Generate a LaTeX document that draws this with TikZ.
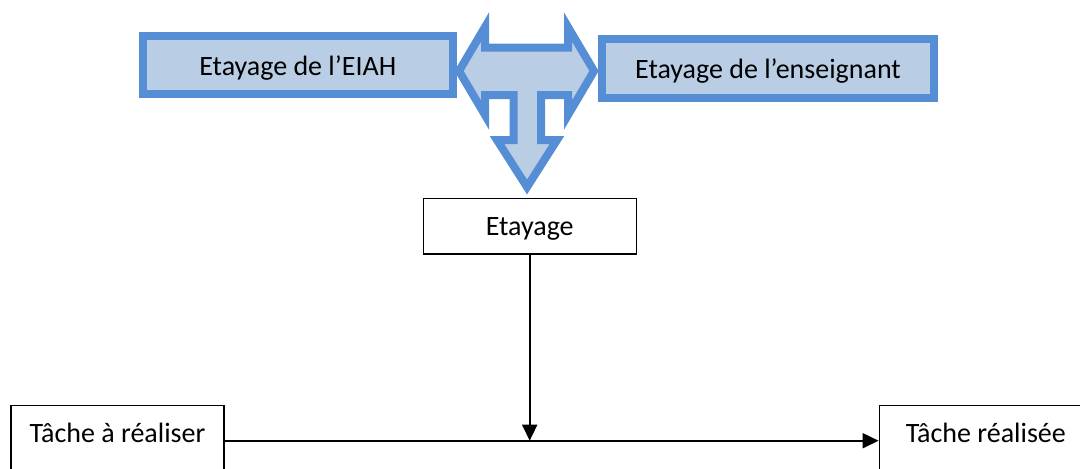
\documentclass[tikz,border=0pt]{standalone}
\usepackage{fontspec}
\setmainfont{Carlito}
\usetikzlibrary{arrows.meta}
\definecolor{bstroke}{RGB}{85,142,213}
\definecolor{bfill}{RGB}{185,205,229}
\begin{document}
\begin{tikzpicture}[x=0.5pt,y=-0.5pt,
  every node/.style={font=\fontsize{14pt}{16pt}\selectfont, inner sep=0pt, text depth=0pt},
  bluebox/.style={draw=bstroke, fill=bfill, line width=4pt, rectangle, text height=10pt},
  plainbox/.style={draw=black, line width=0.7pt, rectangle},
  conn/.style={line width=0.85pt, -{Triangle[length=8pt,width=7.5pt]}}
]
\useasboundingbox (0,0) rectangle (1080,468);
\clip (0,0) rectangle (1080,468);
\node[bluebox, minimum width=309.7*0.5pt, minimum height=58.6*0.5pt] (eiah) at (297.8,65) {Etayage de l’EIAH};
\node[bluebox, minimum width=332*0.5pt, minimum height=59*0.5pt] (ens) at (768,68.5) {Etayage de l’enseignant};
% T-shaped left-right-down arrow
\draw[draw=bstroke, fill=bfill, line width=4pt, line join=miter]
  (459,71) -- (485,27) -- (485,47.5) -- (568,47.5) -- (568,27) -- (594,71)
  -- (568,115) -- (568,95) -- (541,95) -- (541,140) -- (557,140) -- (527,187)
  -- (497,140) -- (513.5,140) -- (513.5,95) -- (485,95) -- (485,115) -- cycle;
\node[plainbox, text height=8.8pt, minimum width=213*0.5pt, minimum height=55.7*0.5pt] (etay) at (529.7,226.2) {Etayage};
\node[plainbox, text height=2pt, minimum width=213*0.5pt, minimum height=70*0.5pt] (t1) at (117.5,440.7) {Tâche à réaliser};
\node[plainbox, text height=2pt, minimum width=213*0.5pt, minimum height=70*0.5pt] (t2) at (985.8,440.7) {Tâche réalisée};
\coordinate (m) at (etay.south |- t1.east);
\draw[conn] (t1.east) -- (t2.west);
\draw[conn] (etay.south) -- (m);
\end{tikzpicture}
\end{document}
